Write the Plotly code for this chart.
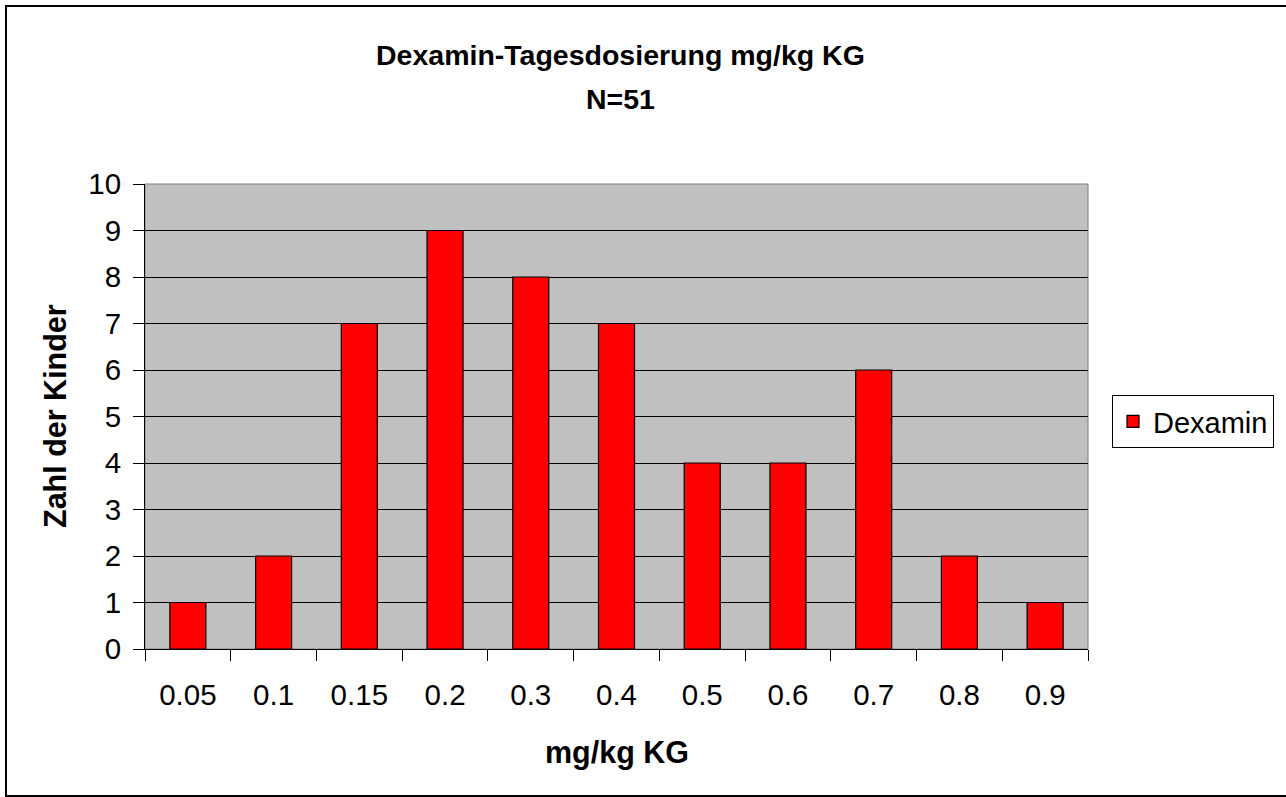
import plotly.graph_objects as go

categories = ["0.05", "0.1", "0.15", "0.2", "0.3", "0.4", "0.5", "0.6", "0.7", "0.8", "0.9"]
counts = [1, 2, 7, 9, 8, 7, 4, 4, 6, 2, 1]
series_name = "Dexamin"
title_line1 = "Dexamin-Tagesdosierung mg/kg KG"
title_line2 = "N=51"
x_title = "mg/kg KG"
y_title = "Zahl der Kinder"

W, H = 1286, 797
L, R, T, B = 145, 1088, 184, 649
pw, ph = R - L, B - T

def px(x):
    return (x - L) / pw

def py(y):
    return (B - y) / ph

font = "Liberation Sans, Arial, sans-serif"

fig = go.Figure()
fig.add_trace(go.Bar(
    x=categories, y=counts, name=series_name,
    marker=dict(color="#FF0000", line=dict(color="black", width=1.2)),
    showlegend=True,
))

fig.update_layout(
    width=W, height=H,
    margin=dict(l=L, r=W - R, t=T, b=H - B, autoexpand=False),
    paper_bgcolor="white",
    plot_bgcolor="#C0C0C0",
    bargap=0.58,
    font=dict(family=font, size=29.5, color="black"),
    showlegend=True,
    legend=dict(x=px(1112), y=py(395), xanchor="left", yanchor="top",
                bgcolor="white", bordercolor="black", borderwidth=1,
                font=dict(family=font, size=29, color="black"),
                itemwidth=30, tracegroupgap=0),
    xaxis=dict(
        type="category", tickson="boundaries", ticks="outside", ticklen=11,
        tickcolor="black", tickwidth=1, showline=True, linecolor="black", linewidth=1,
        showgrid=False, tickfont=dict(family=font, size=29.5),
        ticklabelstandoff=20,
    ),
    yaxis=dict(
        range=[0, 10], dtick=1, ticks="outside", ticklen=11, tickcolor="black",
        showline=True, linecolor="black", linewidth=1,
        showgrid=True, gridcolor="black", gridwidth=1, zeroline=False,
        tickfont=dict(family=font, size=29.5),
        ticklabelstandoff=6,
    ),
)

ann_font = dict(family=font, size=28.5, color="black")
fig.add_annotation(text="<b>" + title_line1 + "</b>", xref="paper", yref="paper",
                   x=px(620), y=py(55), xanchor="center", yanchor="middle",
                   showarrow=False, font=ann_font)
fig.add_annotation(text="<b>" + title_line2 + "</b>", xref="paper", yref="paper",
                   x=px(620), y=py(99), xanchor="center", yanchor="middle",
                   showarrow=False, font=ann_font)
fig.add_annotation(text="<b>" + x_title + "</b>", xref="paper", yref="paper",
                   x=px(617), y=py(752), xanchor="center", yanchor="middle",
                   showarrow=False, font=dict(family=font, size=30.5, color="black"))
fig.add_annotation(text="<b>" + y_title + "</b>", xref="paper", yref="paper",
                   x=px(55), y=py(416), xanchor="center", yanchor="middle",
                   textangle=-90, showarrow=False,
                   font=dict(family=font, size=30.5, color="black"))

# plot area border (gray)
fig.add_shape(type="rect", xref="paper", yref="paper", x0=0, y0=0, x1=1, y1=1,
              line=dict(color="#808080", width=1), layer="below")
# outer chart border
fig.add_shape(type="rect", xref="paper", yref="paper",
              x0=px(6), y0=py(796), x1=px(1295), y1=py(6),
              line=dict(color="black", width=2))

fig.write_html("out.html", config={"displayModeBar": False},
               post_script="document.body.style.margin='0';document.body.style.overflow='hidden';")
